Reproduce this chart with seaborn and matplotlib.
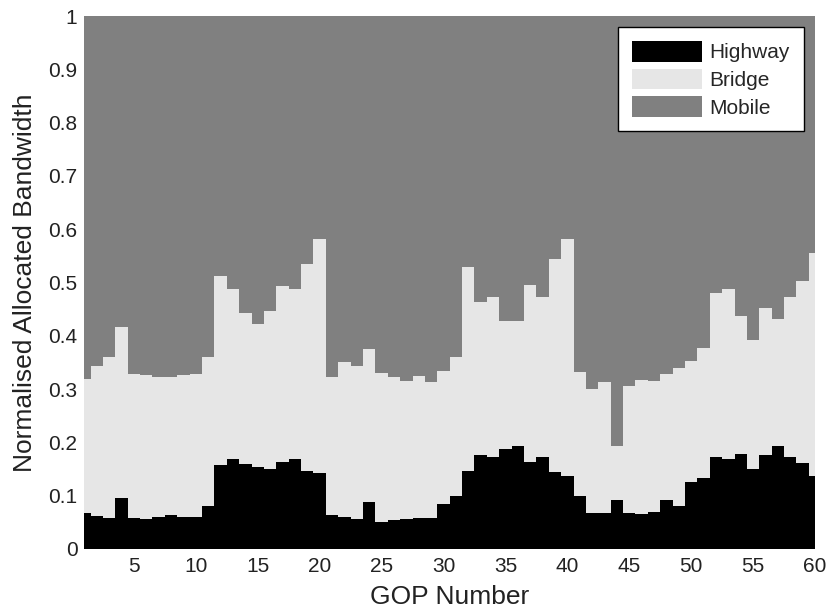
import pandas as pd
import numpy as np
import seaborn as sns
import matplotlib.pyplot as plt
from matplotlib.patches import Patch

# share of the bandwidth per GOP
gop = list(range(1, 61))
highway = [0.067, 0.061, 0.058, 0.095, 0.058, 0.056, 0.060, 0.064, 0.060, 0.060,
           0.081, 0.158, 0.168, 0.160, 0.153, 0.151, 0.163, 0.168, 0.147, 0.142,
           0.064, 0.060, 0.056, 0.089, 0.050, 0.054, 0.056, 0.058, 0.058, 0.085,
           0.099, 0.146, 0.177, 0.172, 0.188, 0.193, 0.163, 0.172, 0.144, 0.137,
           0.099, 0.067, 0.067, 0.092, 0.067, 0.065, 0.069, 0.092, 0.081, 0.125,
           0.134, 0.172, 0.168, 0.179, 0.151, 0.177, 0.193, 0.172, 0.161, 0.137]
bridge = [0.251, 0.282, 0.303, 0.321, 0.270, 0.270, 0.263, 0.259, 0.266, 0.268,
          0.280, 0.354, 0.319, 0.282, 0.269, 0.296, 0.330, 0.319, 0.388, 0.440,
          0.259, 0.290, 0.287, 0.287, 0.281, 0.268, 0.259, 0.267, 0.255, 0.249,
          0.261, 0.384, 0.286, 0.300, 0.240, 0.235, 0.333, 0.301, 0.401, 0.445,
          0.233, 0.233, 0.246, 0.101, 0.239, 0.252, 0.246, 0.236, 0.258, 0.228,
          0.244, 0.308, 0.319, 0.258, 0.242, 0.276, 0.238, 0.300, 0.342, 0.418]
mobile = [0.682, 0.657, 0.639, 0.584, 0.672, 0.674, 0.677, 0.677, 0.674, 0.672,
          0.639, 0.488, 0.513, 0.558, 0.578, 0.553, 0.507, 0.513, 0.465, 0.418,
          0.677, 0.650, 0.657, 0.624, 0.669, 0.678, 0.685, 0.675, 0.687, 0.666,
          0.640, 0.470, 0.537, 0.528, 0.572, 0.572, 0.504, 0.527, 0.455, 0.418,
          0.668, 0.700, 0.687, 0.807, 0.694, 0.683, 0.685, 0.672, 0.661, 0.647,
          0.622, 0.520, 0.513, 0.563, 0.607, 0.547, 0.569, 0.528, 0.497, 0.445]

streams = ['Highway', 'Bridge', 'Mobile']
colors = ['#000000', '#e6e6e6', '#808080']

df = pd.DataFrame({'GOP': gop, 'Highway': highway, 'Bridge': bridge, 'Mobile': mobile})
# stacked bars: draw cumulative totals from the top layer down
df['top_Highway'] = df['Highway']
df['top_Bridge'] = df['Highway'] + df['Bridge']
df['top_Mobile'] = df['Highway'] + df['Bridge'] + df['Mobile']

sns.set_theme(style='white')
plt.rcParams['font.family'] = ['Liberation Sans', 'DejaVu Sans']

fig = plt.figure(figsize=(8.3, 6.16), dpi=100)
ax = fig.add_axes([0.1016, 0.1088, 0.8804, 0.8652])

for s, c in zip(streams[::-1], colors[::-1]):
    sns.barplot(data=df, x='GOP', y='top_' + s, native_scale=True, width=1,
                color=c, saturation=1, linewidth=0, errorbar=None, ax=ax)

ax.set_xlim(1, 60)
ax.set_ylim(0, 1)
ax.set_xticks(range(5, 61, 5))
ax.set_yticks(np.arange(0, 1.01, 0.1))
ax.set_yticklabels(['0', '0.1', '0.2', '0.3', '0.4', '0.5', '0.6', '0.7', '0.8', '0.9', '1'])
ax.tick_params(axis='both', length=0, labelsize=15, colors='#222222')
ax.tick_params(axis='x', pad=6)
ax.tick_params(axis='y', pad=5)
for sp in ax.spines.values():
    sp.set_visible(False)

ax.set_xlabel('GOP Number', fontsize=19, labelpad=6, color='#222222')
ax.set_ylabel('Normalised Allocated Bandwidth', fontsize=19, labelpad=8, color='#222222')

handles = [Patch(facecolor=c, edgecolor='none', label=s) for s, c in zip(streams, colors)]
leg = ax.legend(handles=handles, loc='upper right', fontsize=15, frameon=True,
                fancybox=False, framealpha=1, edgecolor='black',
                handlelength=3.4, handleheight=1.15, handletextpad=0.35,
                labelspacing=0.3, borderpad=0.65, borderaxespad=0.55)
leg.get_frame().set_linewidth(1.0)

fig.savefig('out.png', dpi=100)
